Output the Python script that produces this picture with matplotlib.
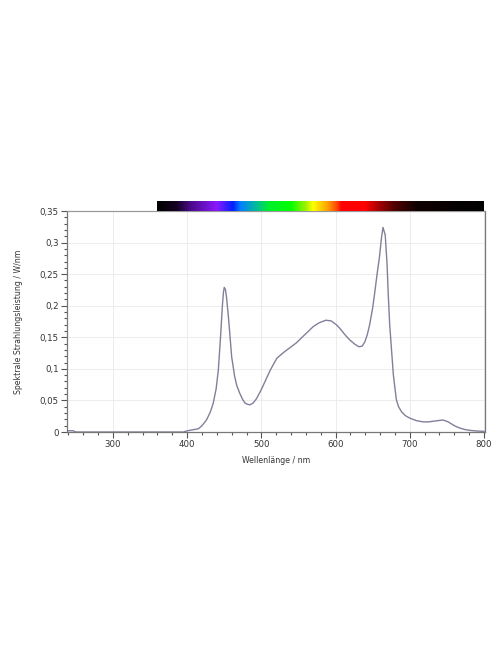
import numpy as np
import matplotlib
matplotlib.use("Agg")
import matplotlib.pyplot as plt
from matplotlib.colors import LinearSegmentedColormap
from matplotlib.ticker import MultipleLocator

# Spectral data
wavelength = [240, 246, 250, 300, 350, 395, 399, 405, 410, 415, 420, 426, 431, 435, 439, 442, 445,
              447.7, 449, 450, 451.5, 453, 456, 460, 464, 467, 471, 475, 478, 481, 484.6, 489, 493.6,
              499, 505, 512, 521, 530, 539, 547, 554, 562, 570, 578, 587, 594, 601, 606, 612, 619,
              626, 631.5, 636, 639.6, 643, 646, 650, 653, 656, 659, 662, 664, 667, 669.5, 671,
              673, 675.5, 678, 682, 685, 689, 694, 700, 709, 718, 725, 731.6, 738, 745, 752, 756,
              761, 767, 774, 782, 790, 800]
power = [0.002, 0.002, 0.0, 0.0, 0.0, 0.0, 0.0016, 0.003, 0.004, 0.005, 0.010, 0.019, 0.031, 0.045,
         0.068, 0.098, 0.151, 0.204, 0.222, 0.229, 0.226, 0.214, 0.177, 0.119, 0.088, 0.073, 0.061,
         0.051, 0.046, 0.044, 0.043, 0.046, 0.053, 0.065, 0.080, 0.098, 0.117, 0.126, 0.134, 0.141,
         0.149, 0.158, 0.167, 0.173, 0.177, 0.176, 0.170, 0.164, 0.155, 0.146, 0.139, 0.135, 0.136,
         0.143, 0.155, 0.170, 0.196, 0.222, 0.250, 0.275, 0.308, 0.324, 0.312, 0.265, 0.220,
         0.170, 0.130, 0.090, 0.051, 0.040, 0.032, 0.026, 0.022, 0.018, 0.016, 0.016, 0.017,
         0.018, 0.019, 0.016, 0.013, 0.0095, 0.0065, 0.004, 0.0025, 0.0016, 0.001]

x_ticks = [300, 400, 500, 600, 700, 800]
y_ticks = [0, 0.05, 0.1, 0.15, 0.2, 0.25, 0.3, 0.35]
y_tick_labels = ["0", "0,05", "0,1", "0,15", "0,2", "0,25", "0,3", "0,35"]

# Spectrum colour bar stops (nm, colour)
bar_start, bar_end = 360, 800
bar_stops = [(360, "#000000"), (385, "#140020"), (405, "#4a0a8a"), (440, "#8a1aff"),
             (462, "#0020ff"), (472, "#0080ff"), (495, "#00c090"), (510, "#00ee30"),
             (540, "#00ff00"), (560, "#a0f000"), (570, "#ffff00"), (590, "#ffa000"),
             (603, "#ff4000"), (608, "#ff0000"), (640, "#ff0000"), (660, "#a00000"),
             (680, "#500000"), (710, "#100000"), (800, "#000000")]

fig = plt.figure(figsize=(4.96, 6.64), dpi=100)
ax = fig.add_axes([67/496, 1-432/664, (485-67)/496, (432-211)/664])

ax.plot(wavelength, power, color="#80809a", lw=1.0)

# colour bar above axes
pos = [(s - bar_start) / (bar_end - bar_start) for s, _ in bar_stops]
cmap = LinearSegmentedColormap.from_list("spec", list(zip(pos, [c for _, c in bar_stops])))
grad = np.linspace(0, 1, 512)[None, :]
ax.imshow(grad, cmap=cmap, aspect="auto", extent=(bar_start, bar_end, 0.35, 0.3645),
          clip_on=False, zorder=5, interpolation="bilinear")

ax.set_xlim(238, 801.5)
ax.set_ylim(0, 0.35)
ax.set_xticks(x_ticks)
ax.set_yticks(y_ticks)
ax.set_yticklabels(y_tick_labels)
ax.xaxis.set_minor_locator(MultipleLocator(20))
ax.yaxis.set_minor_locator(MultipleLocator(0.01))
ax.tick_params(axis="both", which="major", labelsize=6.2, length=4, width=0.8, color="#555555",
               labelcolor="#333333", pad=2)
ax.tick_params(axis="both", which="minor", length=2.5, width=0.8, color="#555555")
ax.grid(True, which="major", color="#ececec", lw=0.7)
ax.set_axisbelow(True)
for s in ax.spines.values():
    s.set_color("#777777")
    s.set_linewidth(0.9)
ax.spines["top"].set_color("#999999")

ax.set_xlabel("Wellenlänge / nm", fontsize=5.6, color="#333333", labelpad=5)
ax.set_ylabel("Spektrale Strahlungsleistung / W/nm", fontsize=5.6, color="#333333", labelpad=12)

fig.savefig("out.png", dpi=100)
